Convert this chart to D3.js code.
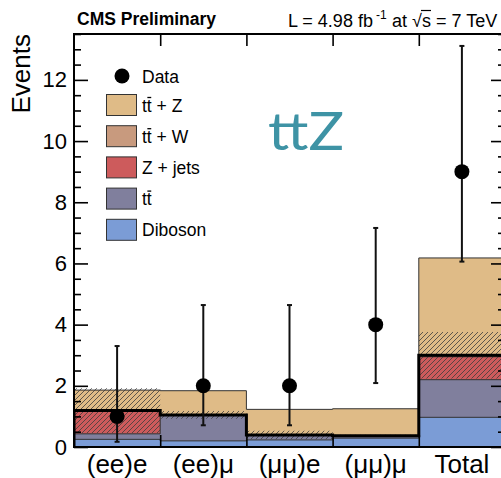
<!DOCTYPE html>
<html>
<head>
<meta charset="utf-8">
<script src="https://cdn.jsdelivr.net/npm/d3@7"></script>
<style>
  html, body { margin: 0; padding: 0; background: #fff; overflow: hidden; }
  svg { display: block; font-family: "Liberation Sans", Arial, Helvetica, sans-serif; }
</style>
</head>
<body>
<svg id="chart" width="501" height="478"></svg>
<script>
// ---- channel categories (x axis) ----
const categories = ["(ee)e", "(ee)\u03bc", "(\u03bc\u03bc)e", "(\u03bc\u03bc)\u03bc", "Total"];

// ---- expected event yields per channel (stacked, bottom to top) ----
const diboson = [0.25, 0.20, 0.23, 0.29, 0.97];
const ttbar   = [0.18, 0.83, 0.15, 0.07, 1.23];
const zjets   = [0.74, 0.01, 0.00, 0.00, 0.75];
const ttw     = [0.02, 0.01, 0.01, 0.01, 0.05];
const ttz     = [0.67, 0.79, 0.84, 0.88, 3.18];

// ---- background uncertainty (shown as hatched band around background sum) ----
const bkgUnc = [0.73, 0.13, 0.14, 0.03, 0.76];

// ---- observed data with Poisson intervals ----
const observed = [1, 2, 2, 4, 9];
const obsLow   = [0.17, 0.71, 0.71, 2.09, 6.06];
const obsHigh  = [3.30, 4.64, 4.64, 7.16, 13.11];

// ---- axis ticks ----
const yMajorTicks = [0, 2, 4, 6, 8, 10, 12];
const yMinorTicks = d3.range(0, 13.51, 0.5).filter(v => v % 2 !== 0);

// ---- legend entries (combining macron marks the barred quark) ----
const legendKeys   = ["ttz", "ttw", "zjets", "ttbar", "diboson"];
const legendLabels = ["tt\u0304 + Z", "tt\u0304 + W", "Z + jets", "tt\u0304", "Diboson"];
const layerColors  = {
  diboson: "#7b9cd6",
  ttbar:   "#807f9d",
  zjets:   "#cd5b5c",
  ttw:     "#c89a7e",
  ttz:     "#dfbb87"
};

const stackKeys = ["diboson", "ttbar", "zjets", "ttw", "ttz"];
const table = categories.map((c, i) => ({
  cat: c, diboson: diboson[i], ttbar: ttbar[i], zjets: zjets[i], ttw: ttw[i], ttz: ttz[i]
}));
const series = d3.stack().keys(stackKeys)(table);

// ---- layout ----
const plot = { left: 74, right: 505, top: 34, bottom: 447 };
const svg = d3.select("#chart");

const x = d3.scaleBand().domain(categories).range([plot.left, plot.right]).padding(0);
const xEdge = d3.scaleLinear().domain([0, categories.length]).range([plot.left, plot.right]);
const y = d3.scaleLinear().domain([0, 13.5]).range([plot.bottom, plot.top]);
const bw = x.bandwidth();

const defs = svg.append("defs");
defs.append("clipPath").attr("id", "plotClip")
  .append("rect")
  .attr("x", plot.left).attr("y", plot.top)
  .attr("width", plot.right - plot.left).attr("height", plot.bottom - plot.top);

const hatch = defs.append("pattern")
  .attr("id", "hatch").attr("patternUnits", "userSpaceOnUse")
  .attr("width", 5).attr("height", 5);
hatch.append("path")
  .attr("d", "M0,5 L5,0 M-1,1 L1,-1 M4,6 L6,4")
  .attr("stroke", "#3c3c3c").attr("stroke-width", 0.8).attr("fill", "none");

const g = svg.append("g").attr("clip-path", "url(#plotClip)");

// histogram step points: one point per bin edge, last value repeated at the right edge
function stepPoints(vals) {
  const pts = categories.map((c, i) => [x(c), vals[i]]);
  pts.push([plot.right, vals[vals.length - 1]]);
  return pts;
}

const stepArea = d3.area()
  .x(d => d[0]).y0(y(0)).y1(d => y(d[1]))
  .curve(d3.curveStepAfter);

// stacked histograms, drawn from the full stack downwards so each outline shows
series.slice().reverse().forEach(s => {
  const tops = s.map(d => d[1]);
  g.append("path")
    .attr("d", stepArea(stepPoints(tops)))
    .attr("fill", layerColors[s.key])
    .attr("stroke", "#333")
    .attr("stroke-width", 1);
});

// background sum (everything except ttZ) and its uncertainty band
const bkgSum = categories.map((c, i) => diboson[i] + ttbar[i] + zjets[i] + ttw[i]);

const bandArea = d3.area()
  .x(d => d[0]).y0(d => y(d[1])).y1(d => y(d[2]))
  .curve(d3.curveStepAfter);
const bandPts = categories.map((c, i) => [x(c), bkgSum[i] - bkgUnc[i], bkgSum[i] + bkgUnc[i]]);
bandPts.push([plot.right, bandPts[bandPts.length - 1][1], bandPts[bandPts.length - 1][2]]);
g.append("path")
  .attr("d", bandArea(bandPts))
  .attr("fill", "url(#hatch)")
  .attr("stroke", "none");

const bkgLinePts = [[plot.left, 0]].concat(stepPoints(bkgSum), [[plot.right, 0]]);
g.append("path")
  .attr("d", d3.line().x(d => d[0]).y(d => y(d[1])).curve(d3.curveStepAfter)(bkgLinePts))
  .attr("fill", "none")
  .attr("stroke", "#000")
  .attr("stroke-width", 3);

// ---- axes ----
const axes = svg.append("g").attr("color", "#000");

const yLeft = axes.append("g").attr("transform", `translate(${plot.left},0)`)
  .call(d3.axisLeft(y).tickValues(yMajorTicks).tickSize(-14).tickPadding(7).tickFormat(d3.format("d")));
const yLeftMinor = axes.append("g").attr("transform", `translate(${plot.left},0)`)
  .call(d3.axisLeft(y).tickValues(yMinorTicks).tickSize(-7).tickFormat(""));
const yRight = axes.append("g").attr("transform", `translate(${plot.right},0)`)
  .call(d3.axisRight(y).tickValues(yMajorTicks).tickSize(-14).tickFormat(""));
const yRightMinor = axes.append("g").attr("transform", `translate(${plot.right},0)`)
  .call(d3.axisRight(y).tickValues(yMinorTicks).tickSize(-7).tickFormat(""));
const xTop = axes.append("g").attr("transform", `translate(0,${plot.top})`)
  .call(d3.axisTop(xEdge).tickValues(d3.range(1, categories.length)).tickSize(-12).tickFormat(""));
const xBottomTicks = axes.append("g").attr("transform", `translate(0,${plot.bottom})`)
  .call(d3.axisBottom(xEdge).tickValues(d3.range(1, categories.length)).tickSize(-12).tickFormat(""));
const xBottom = axes.append("g").attr("transform", `translate(0,${plot.bottom})`)
  .call(d3.axisBottom(x).tickSize(0).tickPadding(7.5));

[yLeft, yLeftMinor, yRight, yRightMinor, xTop, xBottomTicks, xBottom].forEach(a => a.select(".domain").remove());
axes.selectAll(".tick line").attr("stroke-width", 1.6);

yLeft.selectAll("text").attr("font-size", 22).attr("font-family", null);
xBottom.selectAll("text").attr("font-size", 26).attr("font-family", null);

// plot frame
axes.append("rect")
  .attr("x", plot.left).attr("y", plot.top)
  .attr("width", plot.right - plot.left).attr("height", plot.bottom - plot.top)
  .attr("fill", "none").attr("stroke", "#000").attr("stroke-width", 2);

// ---- observed data ----
const dataG = svg.append("g");
categories.forEach((c, i) => {
  const cx = x(c) + bw / 2;
  dataG.append("line")
    .attr("x1", cx).attr("x2", cx)
    .attr("y1", y(obsLow[i])).attr("y2", y(obsHigh[i]))
    .attr("stroke", "#111").attr("stroke-width", 2);
  [obsLow[i], obsHigh[i]].forEach(v => {
    dataG.append("line")
      .attr("x1", cx - 2.5).attr("x2", cx + 2.5)
      .attr("y1", y(v)).attr("y2", y(v))
      .attr("stroke", "#111").attr("stroke-width", 2);
  });
  dataG.append("circle")
    .attr("cx", cx).attr("cy", y(observed[i])).attr("r", 7.5)
    .attr("fill", "#000");
});

// ---- labels ----
svg.append("text")
  .attr("transform", "rotate(-90)")
  .attr("x", -34).attr("y", 30)
  .attr("text-anchor", "end")
  .attr("font-size", 26)
  .text("Events");

svg.append("text")
  .attr("x", 77).attr("y", 25)
  .attr("font-size", 17.5).attr("font-weight", "bold")
  .text("CMS Preliminary");

const lumi = svg.append("text")
  .attr("x", 288).attr("y", 26.5)
  .attr("font-size", 18);
lumi.append("tspan").text("L = 4.98 fb");
lumi.append("tspan").attr("font-size", 12).attr("dy", -7.5).attr("dx", 3).text("-1");
lumi.append("tspan").attr("dy", 7.5).attr("dx", 0.5).text(" at ");
lumi.append("tspan").attr("class", "root").text("\u221a");
lumi.append("tspan").attr("class", "rootarg").text("s");
lumi.append("tspan").text(" = 7 TeV");
{
  const node = lumi.node();
  const full = node.textContent;
  const k = full.indexOf("\u221a");
  const s1 = node.getEndPositionOfChar(k + 1);
  const r1 = node.getEndPositionOfChar(k);
  svg.append("line")
    .attr("x1", r1.x - 1).attr("x2", s1.x)
    .attr("y1", 26.5 - 16).attr("y2", 26.5 - 16)
    .attr("stroke", "#000").attr("stroke-width", 1.2);
}

svg.append("text")
  .attr("x", 268).attr("y", 150)
  .attr("font-family", "Lato, 'Open Sans', sans-serif")
  .attr("font-size", 53)
  .attr("fill", "#3e93a5")
  .attr("textLength", 76).attr("lengthAdjust", "spacingAndGlyphs")
  .text("ttZ");

// ---- legend ----
const legend = svg.append("g");
legend.append("circle").attr("cx", 122).attr("cy", 76).attr("r", 7.5).attr("fill", "#000");
legend.append("text").attr("x", 142).attr("y", 82.5).attr("font-size", 17.5).text("Data");

legendKeys.forEach((key, i) => {
  const cy = 105 + i * 31.2;
  legend.append("rect")
    .attr("x", 106.5).attr("y", cy - 10.5)
    .attr("width", 30).attr("height", 21)
    .attr("fill", layerColors[key])
    .attr("stroke", "#333").attr("stroke-width", 1);
  const raw = legendLabels[i];
  const bar = raw.indexOf("\u0304");
  const shown = raw.replace("\u0304", "");
  const baseline = cy + 6.5;
  const t = legend.append("text")
    .attr("x", 142).attr("y", baseline)
    .attr("font-size", 17.5)
    .text(shown);
  if (bar > 0) {
    const n = t.node();
    const a = n.getStartPositionOfChar(bar - 1).x;
    const b = n.getEndPositionOfChar(bar - 1).x;
    legend.append("line")
      .attr("x1", a + 0.5).attr("x2", b - 0.5)
      .attr("y1", baseline - 14).attr("y2", baseline - 14)
      .attr("stroke", "#000").attr("stroke-width", 1.3);
  }
});
</script>
</body>
</html>
